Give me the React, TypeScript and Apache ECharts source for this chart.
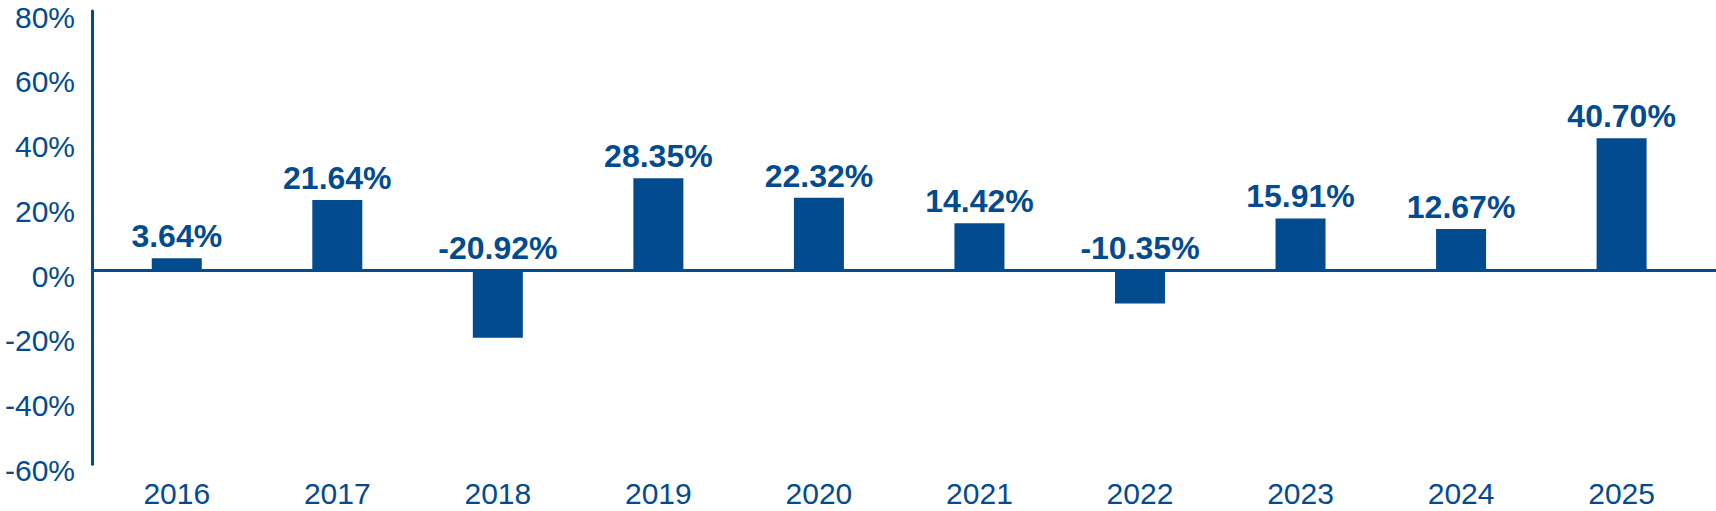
import React, { useEffect, useRef } from "react";
import * as echarts from "echarts";

const years = [2016, 2017, 2018, 2019, 2020, 2021, 2022, 2023, 2024, 2025];
const returns = [3.64, 21.64, -20.92, 28.35, 22.32, 14.42, -10.35, 15.91, 12.67, 40.7];
const yMin = -60;
const yMax = 80;
const yStep = 20;

const BLUE = "#034b8f";
const FONT = '"Liberation Sans", Arial, Helvetica, sans-serif';

export default function App() {
  const ref = useRef<HTMLDivElement>(null);

  useEffect(() => {
    if (!ref.current) return;
    const chart = echarts.init(ref.current, null, { renderer: "svg" });
    const data = years.map((y, i) => [y, returns[i]]);
    chart.setOption({
      animation: false,
      backgroundColor: "#ffffff",
      grid: {
        left: 92,
        right: 0,
        top: 11,
        bottom: 46.75,
        containLabel: false,
        outerBoundsMode: "none",
      },
      xAxis: {
        type: "value",
        min: 2015.472,
        max: 2025.588,
        axisLine: { show: false, onZero: false },
        axisTick: { show: false },
        splitLine: { show: false },
        axisLabel: {
          customValues: years,
          formatter: (v: number) => String(Math.round(v)),
          color: BLUE,
          fontSize: 30,
          fontFamily: FONT,
          margin: 14,
        },
      },
      yAxis: {
        type: "value",
        min: yMin,
        max: yMax,
        interval: yStep,
        axisLine: { show: true, lineStyle: { color: BLUE, width: 3 } },
        axisTick: { show: false },
        splitLine: { show: false },
        axisLabel: {
          formatter: "{value}%",
          color: BLUE,
          fontSize: 30,
          fontFamily: FONT,
          margin: 17,
          verticalAlign: "top",
          lineHeight: 12,
        },
      },
      series: [
        {
          type: "bar",
          data,
          barWidth: 50,
          itemStyle: { color: BLUE },
          label: {
            show: true,
            position: "top",
            distance: 6,
            color: BLUE,
            fontSize: 32,
            fontWeight: "bold",
            fontFamily: FONT,
            formatter: (p: any) => Number(p.value[1]).toFixed(2) + "%",
          },
          markLine: {
            silent: true,
            symbol: ["none", "none"],
            label: { show: false },
            lineStyle: { color: BLUE, width: 3, type: "solid" },
            data: [{ yAxis: 0 }],
          },
        },
      ],
    });
    return () => chart.dispose();
  }, []);

  return (
    <div
      ref={ref}
      style={{ position: "fixed", left: 0, top: 0, width: 1716, height: 511, background: "#fff" }}
    />
  );
}
